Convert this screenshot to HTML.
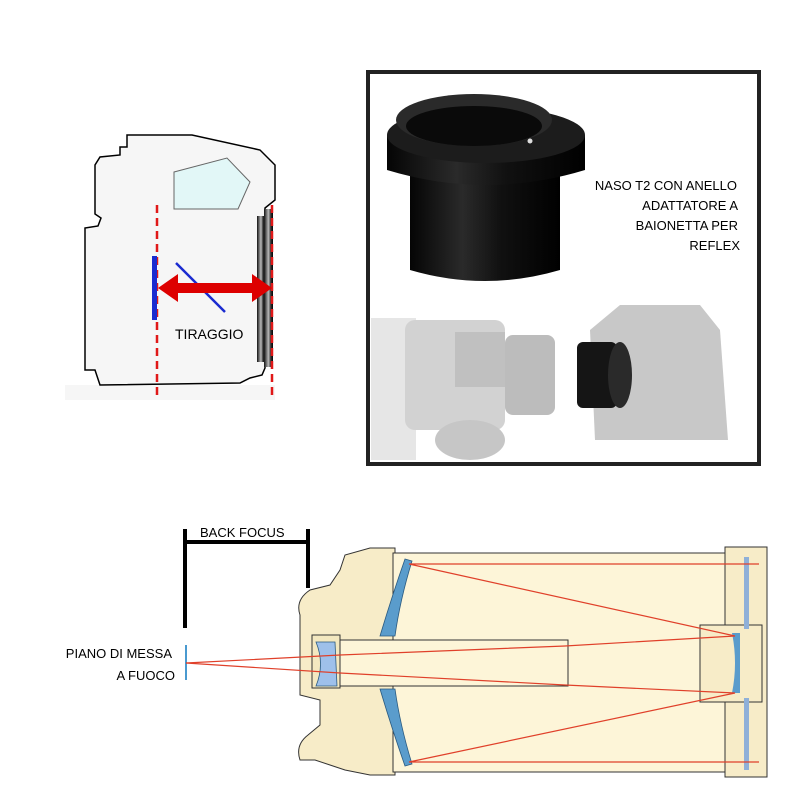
<!DOCTYPE html>
<html><head><meta charset="utf-8"><style>
html,body{margin:0;padding:0;background:#fff;}
svg{display:block;}
text{font-family:"Liberation Sans",sans-serif;}
</style></head><body>
<svg width="793" height="800" viewBox="0 0 793 800" xmlns="http://www.w3.org/2000/svg">
<defs>
<linearGradient id="ring" x1="0" x2="1">
<stop offset="0" stop-color="#111"/><stop offset="0.5" stop-color="#bbb"/><stop offset="0.75" stop-color="#333"/><stop offset="1" stop-color="#000"/>
</linearGradient>
<linearGradient id="cyl" x1="0" x2="1">
<stop offset="0" stop-color="#050505"/><stop offset="0.35" stop-color="#2a2a2a"/><stop offset="0.6" stop-color="#111"/><stop offset="1" stop-color="#000"/>
</linearGradient>
</defs>

<!-- Camera diagram -->
<rect x="65" y="385" width="210" height="15" fill="#f6f6f6"/>
<path d="M127,135 L192,135 L260,150 L275,165 L275,200 L265,208 L265,368 L262,375 L250,378 L240,383 L100,385 L95,370 L85,370 L85,228 L98,226 L101,218 L95,214 L95,165 L100,157 L120,155 L120,147 L127,147 Z" fill="#f6f6f6" stroke="#000" stroke-width="1.5"/>
<polygon points="174,172 227,158 250,182 238,209 174,209" fill="#e2f7f7" stroke="#666" stroke-width="1"/>
<rect x="257" y="216" width="8" height="146" fill="url(#ring)"/>
<rect x="264" y="209" width="9" height="158" fill="url(#ring)"/>
<line x1="157" y1="205" x2="157" y2="400" stroke="#e01818" stroke-width="2.5" stroke-dasharray="8,5"/>
<line x1="272" y1="205" x2="272" y2="400" stroke="#e01818" stroke-width="2.5" stroke-dasharray="8,5"/>
<rect x="152" y="256" width="5" height="64" fill="#1a2bd0"/>
<line x1="176" y1="263" x2="225" y2="312" stroke="#1a2bd0" stroke-width="2.5"/>
<polygon points="158,288 178,274 178,283 252,283 252,274 272,288 252,302 252,293 178,293 178,302" fill="#dd0000"/>
<text x="175" y="339" font-size="14">TIRAGGIO</text>

<!-- Photo panel -->
<rect x="368" y="72" width="391" height="392" fill="#fff" stroke="#222" stroke-width="4"/>
<!-- T2 adapter -->
<path d="M410,170 L560,170 L560,270 Q485,292 410,270 Z" fill="url(#cyl)"/>
<path d="M387,135 L585,135 L585,170 Q486,200 387,170 Z" fill="url(#cyl)"/>
<ellipse cx="486" cy="135" rx="99" ry="28" fill="#1c1c1c"/>
<ellipse cx="474" cy="120" rx="78" ry="26" fill="#2a2a2a"/>
<ellipse cx="474" cy="126" rx="68" ry="20" fill="#0a0a0a"/>
<circle cx="530" cy="141" r="2.5" fill="#ddd"/>
<text font-size="13" text-anchor="end"><tspan x="737" y="190">NASO T2 CON ANELLO</tspan><tspan x="738" y="210">ADATTATORE A</tspan><tspan x="738" y="230">BAIONETTA PER</tspan><tspan x="740" y="250">REFLEX</tspan></text>
<!-- lower gray photos -->
<rect x="371" y="318" width="45" height="142" fill="#e6e6e6"/>
<rect x="405" y="320" width="100" height="110" rx="10" fill="#d2d2d2"/>
<rect x="455" y="332" width="50" height="55" fill="#c0c0c0"/>
<rect x="505" y="335" width="50" height="80" rx="8" fill="#bcbcbc"/>
<ellipse cx="470" cy="440" rx="35" ry="20" fill="#c6c6c6"/>
<path d="M620,305 L700,305 L720,330 L728,440 L595,440 L590,330 Z" fill="#c8c8c8"/>
<rect x="577" y="342" width="40" height="66" rx="6" fill="#151515"/>
<ellipse cx="620" cy="375" rx="12" ry="33" fill="#2a2a2a"/>

<!-- Back focus -->
<text x="200" y="537" font-size="13">BACK FOCUS</text>
<line x1="185" y1="529" x2="185" y2="628" stroke="#000" stroke-width="4"/>
<line x1="308" y1="529" x2="308" y2="588" stroke="#000" stroke-width="4"/>
<line x1="185" y1="542" x2="308" y2="542" stroke="#000" stroke-width="4"/>
<text font-size="13" text-anchor="end"><tspan x="172" y="658">PIANO DI MESSA</tspan><tspan x="175" y="680">A FUOCO</tspan></text>
<line x1="186" y1="645" x2="186" y2="680" stroke="#4a9ad0" stroke-width="2"/>

<!-- Telescope -->
<g stroke="#333" stroke-width="1">
<path d="M300,615 Q295,600 310,590 L330,585 L340,570 L345,555 L370,548 L395,548 L395,775 L370,775 L345,770 L330,765 L315,760 L300,760 Q295,745 308,735 L320,725 L320,700 L300,695 L300,630 Z" fill="#f7ecc8"/>
<rect x="393" y="553" width="345" height="219" fill="#fdf5d8"/>
<rect x="725" y="547" width="42" height="230" fill="#f7ecc8"/>
<rect x="312" y="635" width="28" height="53" fill="#f3e8c0"/>
<rect x="340" y="640" width="228" height="46" fill="#fdf5d8"/>
<rect x="700" y="625" width="62" height="77" fill="#f7ecc8"/>
</g>
<rect x="744" y="557" width="5" height="72" fill="#8fb0d8"/>
<rect x="744" y="698" width="5" height="72" fill="#8fb0d8"/>
<path d="M405,559 L412,561 Q400,600 395,636 L380,636 Q392,596 405,559 Z" fill="#5a9ccc" stroke="#2a5a80" stroke-width="0.8"/>
<path d="M405,766 L412,764 Q400,725 395,689 L380,689 Q392,729 405,766 Z" fill="#5a9ccc" stroke="#2a5a80" stroke-width="0.8"/>
<path d="M316,642 L335,642 L337,686 L316,686 Q325,664 316,642 Z" fill="#9ec0ea" stroke="#2a5a80" stroke-width="0.8"/>
<path d="M732,633 L740,633 L740,693 L732,693 Q738,663 732,633 Z" fill="#5a9ccc"/>
<g stroke="#e0402a" stroke-width="1.2" fill="none">
<polyline points="186,663 340,655 565,646 735,636 409,564 759,564"/>
<polyline points="186,663 340,673 565,685 735,693 409,762 759,762"/>
</g>
</svg>
</body></html>
